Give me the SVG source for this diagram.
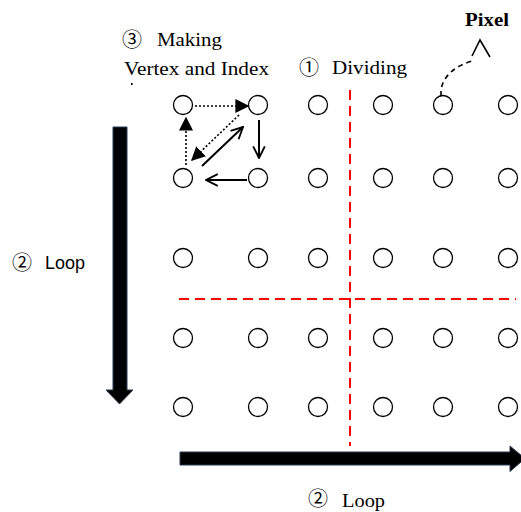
<svg xmlns="http://www.w3.org/2000/svg" width="521" height="512" viewBox="0 0 521 512">
<style>
.px{fill:#fff;stroke:#000;stroke-width:1.3}
.ser{font-family:"Liberation Serif","Times New Roman",serif;font-size:19px;fill:#000}
.san{font-family:"Liberation Sans",Arial,sans-serif;font-size:18px;fill:#000}
.cir{font-family:"Noto Sans CJK JP","Noto Sans CJK SC",sans-serif;font-size:20px;fill:#000}
.red{stroke:#ff0000;stroke-width:2;fill:none;stroke-dasharray:10 6}
.dot{stroke:#000;stroke-width:1.6;fill:none;stroke-dasharray:2 2}
.sol{stroke:#000;stroke-width:2;fill:none}
.big{fill:#000;stroke:#2b3a57;stroke-width:1}
</style>
<defs>
<marker id="tri" viewBox="0 0 10 10" refX="9" refY="5" markerWidth="14" markerHeight="14" markerUnits="userSpaceOnUse" orient="auto"><path d="M0,0 L10,5 L0,10 z" fill="#000"/></marker>
<marker id="open" viewBox="0 0 12 12" refX="11" refY="6" markerWidth="14" markerHeight="14" markerUnits="userSpaceOnUse" orient="auto"><path d="M1,1 L11,6 L1,11" fill="none" stroke="#000" stroke-width="1.6"/></marker>
</defs>
<g id="texts">
<text class="cir" x="122" y="47">③</text>
<text class="ser" x="157" y="46" textLength="65" lengthAdjust="spacingAndGlyphs">Making</text>
<text class="ser" x="124" y="75" textLength="145" lengthAdjust="spacingAndGlyphs">Vertex and Index</text>
<rect x="131" y="83" width="1.6" height="2" fill="#000"/>
<text class="cir" x="299" y="75">①</text>
<text class="ser" x="332" y="74" textLength="75" lengthAdjust="spacingAndGlyphs">Dividing</text>
<text class="ser" x="465" y="26" font-weight="bold" textLength="44" lengthAdjust="spacingAndGlyphs">Pixel</text>
<text class="cir" x="12" y="270">②</text>
<text class="san" x="45" y="269">Loop</text>
<text class="cir" x="308" y="506" font-size="19">②</text>
<text class="ser" x="342" y="507" textLength="43" lengthAdjust="spacingAndGlyphs">Loop</text>
</g>
<g id="dividers">
<line class="red" x1="350" y1="90" x2="350" y2="446" stroke-dasharray="9 6"/>
<line class="red" x1="179" y1="299" x2="516" y2="299"/>
</g>
<g id="pixels">
<circle class="px" cx="183" cy="105" r="9.5"/><circle class="px" cx="258" cy="105" r="9.5"/><circle class="px" cx="318" cy="105" r="9.5"/><circle class="px" cx="383" cy="105" r="9.5"/><circle class="px" cx="443" cy="105" r="9.5"/><circle class="px" cx="508" cy="105" r="9.5"/>
<circle class="px" cx="183" cy="178" r="9.5"/><circle class="px" cx="258" cy="178" r="9.5"/><circle class="px" cx="318" cy="178" r="9.5"/><circle class="px" cx="383" cy="178" r="9.5"/><circle class="px" cx="443" cy="178" r="9.5"/><circle class="px" cx="508" cy="178" r="9.5"/>
<circle class="px" cx="183" cy="258" r="9.5"/><circle class="px" cx="258" cy="258" r="9.5"/><circle class="px" cx="318" cy="258" r="9.5"/><circle class="px" cx="383" cy="258" r="9.5"/><circle class="px" cx="443" cy="258" r="9.5"/><circle class="px" cx="508" cy="258" r="9.5"/>
<circle class="px" cx="183" cy="338" r="9.5"/><circle class="px" cx="258" cy="338" r="9.5"/><circle class="px" cx="318" cy="338" r="9.5"/><circle class="px" cx="383" cy="338" r="9.5"/><circle class="px" cx="443" cy="338" r="9.5"/><circle class="px" cx="508" cy="338" r="9.5"/>
<circle class="px" cx="183" cy="407" r="9.5"/><circle class="px" cx="258" cy="407" r="9.5"/><circle class="px" cx="318" cy="407" r="9.5"/><circle class="px" cx="383" cy="407" r="9.5"/><circle class="px" cx="443" cy="407" r="9.5"/><circle class="px" cx="508" cy="407" r="9.5"/>
</g>
<g id="connectors">
<line class="dot" x1="195" y1="106" x2="248" y2="106" marker-end="url(#tri)"/>
<line class="dot" x1="186" y1="165" x2="186" y2="118" marker-end="url(#tri)"/>
<line class="dot" x1="239" y1="115" x2="192" y2="160" marker-end="url(#tri)"/>
<line class="sol" x1="202" y1="166" x2="243" y2="127" marker-end="url(#open)"/>
<line class="sol" x1="259" y1="120" x2="259" y2="158" marker-end="url(#open)"/>
<line class="sol" x1="247" y1="180" x2="206" y2="180" marker-end="url(#open)"/>
<path d="M441,96 L441,90 C443,76 455,66 472,61" fill="none" stroke="#000" stroke-width="1.6" stroke-dasharray="5 4"/>
<path d="M472,56 L480,40 L490,57" fill="none" stroke="#000" stroke-width="1.6"/>
<polygon class="big" points="113,127 127,127 127,390 133,390 119.5,404 106,390 113,390"/>
<polygon class="big" points="180,452 510,452 510,446 525,458.5 510,471.5 510,465 180,465"/>
</g>
</svg>
